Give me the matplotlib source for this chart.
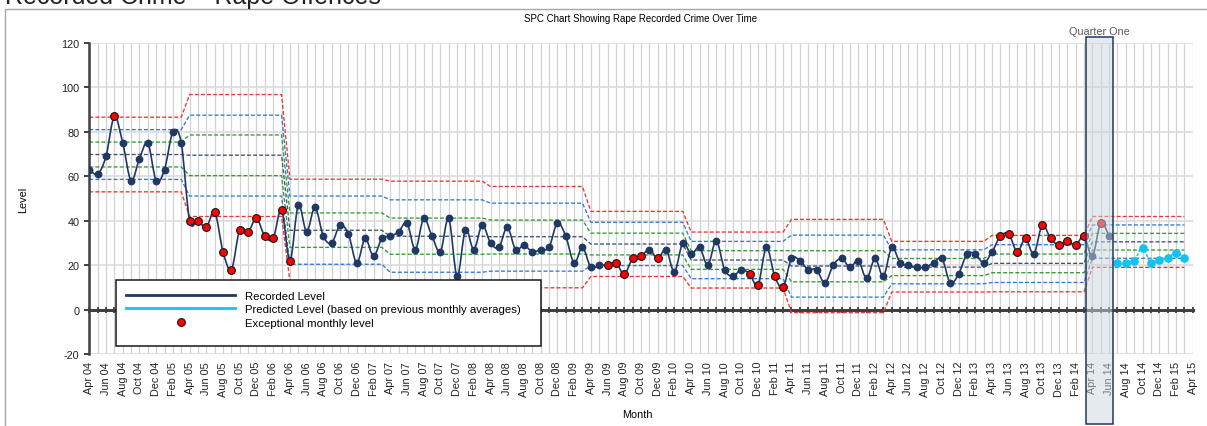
"""SPC chart: rape recorded crime over time, with yearly control limits."""

import numpy as np
import matplotlib
matplotlib.use('Agg')
import matplotlib.pyplot as plt
from matplotlib.path import Path
from matplotlib.patches import PathPatch, Rectangle
from matplotlib.lines import Line2D

plt.rcParams['font.family'] = ['Liberation Sans', 'DejaVu Sans']
plt.rcParams['axes.unicode_minus'] = False

# months Apr 04 .. Apr 15 (axis runs to Apr 15)
month_names = ['Jan', 'Feb', 'Mar', 'Apr', 'May', 'Jun',
               'Jul', 'Aug', 'Sep', 'Oct', 'Nov', 'Dec']
months = [f"{month_names[(3 + i) % 12]} {(4 + (3 + i) // 12):02d}" for i in range(133)]

# recorded monthly level, Apr 04 .. Jun 14
recorded = [63, 61, 69, 87, 75, 58, 68, 75, 58, 63, 80, 75,
            40, 40, 37, 44, 26, 18, 36, 35, 41, 33, 32, 45,
            22, 47, 35, 46, 33, 30, 38, 34, 21, 32, 24, 32,
            33, 35, 39, 27, 41, 33, 26, 41, 15, 36, 27, 38,
            30, 28, 37, 27, 29, 26, 27, 28, 39, 33, 21, 28,
            19, 20, 20, 21, 16, 23, 24, 27, 23, 27, 17, 30,
            25, 28, 20, 31, 18, 15, 18, 16, 11, 28, 15, 10,
            23, 22, 18, 18, 12, 20, 23, 19, 22, 14, 23, 15,
            28, 21, 20, 19, 19, 21, 23, 12, 16, 25, 25, 21,
            26, 33, 34, 26, 32, 25, 38, 32, 29, 31, 29, 33,
            24, 39, 33]

# predicted level, Jul 14 .. Mar 15
predicted = [20.8, 20.8, 21.9, 27.9, 20.8, 22.3, 23.4, 25.6, 23.4]

# months flagged as exceptional (index into months)
exceptional = [3, 12, 13, 14, 15, 16, 17, 18, 19, 20, 21, 22, 23, 24,
               62, 63, 64, 65, 66, 68, 79, 80, 82, 83,
               109, 110, 111, 112, 114, 115, 116, 117, 118, 119, 121]

# control lines, one value per financial year (Apr-Mar), 04/05 .. 14/15
ucl = [86.6, 96.8, 58.7, 57.8, 55.4, 44.2, 34.9, 40.6, 30.7, 33.4, 41.9]
upper2 = [81.0, 87.5, 51.1, 49.4, 47.9, 39.3, 30.7, 33.5, 26.9, 29.2, 38.1]
upper1 = [75.4, 78.6, 43.5, 41.2, 40.3, 34.4, 26.5, 26.5, 23.0, 25.0, 34.3]
mean = [69.8, 69.5, 35.7, 33.0, 32.8, 29.5, 22.3, 19.6, 19.1, 20.8, 30.5]
lower1 = [64.2, 60.3, 28.0, 24.9, 25.0, 24.6, 18.1, 12.5, 15.3, 16.6, 26.8]
lower2 = [58.6, 51.1, 20.4, 16.8, 17.3, 19.8, 13.9, 5.6, 11.6, 12.2, 23.1]
lcl = [53.0, 41.9, 12.8, 8.6, 9.8, 14.9, 9.7, -1.4, 7.9, 8.0, 19.0]

NAVY = '#1F3864'
CYAN = '#12C3F2'
RED = '#F03232'
BLUE = '#2E7BD0'
GREEN = '#2E9E2E'
MEAN_C = '#3A5275'


def smooth_path(x, y):
    """Excel-like smoothed line (Catmull-Rom as cubic Bezier)."""
    pts = np.column_stack([x, y]).astype(float)
    n = len(pts)
    verts = [pts[0]]
    codes = [Path.MOVETO]
    for i in range(n - 1):
        p0 = pts[i - 1] if i > 0 else pts[i]
        p1 = pts[i]
        p2 = pts[i + 1]
        p3 = pts[i + 2] if i + 2 < n else p2
        verts += [p1 + (p2 - p0) / 6.0, p2 - (p3 - p1) / 6.0, p2]
        codes += [Path.CURVE4] * 3
    return Path(verts, codes)


W, H = 1207, 427
fig = plt.figure(figsize=(W / 100, H / 100), dpi=100)
ax = fig.add_axes([89.3 / W, 1 - 355 / H, (1192.7 - 89.3) / W, (355 - 44) / H])

n_months = len(months)
idx = np.arange(n_months)

# grid
for i in idx:
    ax.axvline(i, color='#D2D2D2', lw=0.9, zorder=0)
for yv in [-20, 20, 40, 60, 80, 100, 120]:
    ax.axhline(yv, color='#DCDCDC', lw=1.2, zorder=0.5)

# control lines
ctrl_idx = idx[:132]
year_of = ctrl_idx // 12
for vals, col in [(ucl, RED), (upper2, BLUE), (upper1, GREEN), (mean, MEAN_C),
                  (lower1, GREEN), (lower2, BLUE), (lcl, RED)]:
    line = np.array(vals)[year_of]
    ax.plot(ctrl_idx, line, color=col, lw=0.95, ls=(0, (3, 1.6)), zorder=2)

# recorded level
rec_x = idx[:len(recorded)]
ax.add_patch(PathPatch(smooth_path(rec_x, recorded), facecolor='none',
                       edgecolor=NAVY, lw=1.2, zorder=3))
ax.plot(rec_x, recorded, ls='none', marker='o', ms=4.6, color=NAVY, zorder=4)
exc_y = [recorded[i] for i in exceptional]
ax.plot(exceptional, exc_y, ls='none', marker='o', ms=5.6, mfc='#FF0000',
        mec='#1A1A1A', mew=0.8, zorder=4.5)

# predicted level
pred_x = idx[len(recorded):len(recorded) + len(predicted)]
ax.add_patch(PathPatch(smooth_path(pred_x, predicted), facecolor='none',
                       edgecolor=CYAN, lw=1.1, ls=(0, (2, 1)), zorder=3))
ax.plot(pred_x, predicted, ls='none', marker='o', ms=5.2, color=CYAN, zorder=4)

# axes
ax.set_xlim(0, 132)
ax.set_ylim(-20, 120)
ax.set_yticks([-20, 0, 20, 40, 60, 80, 100, 120])
ax.set_xticks(idx[::2])
ax.set_xticklabels(months[::2], rotation=90, fontsize=7.8, color='#222222')
ax.tick_params(axis='x', length=0, pad=5)
ax.tick_params(axis='y', direction='out', length=3.5, width=1.4, color='#404040',
               labelsize=7.8, labelcolor='#222222', pad=3.5)
for s in ['top', 'right', 'bottom']:
    ax.spines[s].set_visible(False)
ax.spines['left'].set_color('#404040')
ax.spines['left'].set_linewidth(1.8)

# zero axis line with monthly tick marks
zero_ax = ax.secondary_xaxis(20 / 140)
zero_ax.set_xticks(idx)
zero_ax.tick_params(axis='x', direction='inout', length=4, width=1.3,
                    color='#404040', labelbottom=False, labeltop=False)
for s in zero_ax.spines.values():
    s.set_color('#404040')
    s.set_linewidth(2.2)

ax.set_ylabel('Level', fontsize=7.8)
ax.yaxis.set_label_coords((28 - 89.3) / (1192.7 - 89.3), 0.5)
fig.text(637 / W, 1 - 415 / H, 'Month', ha='center', va='center', fontsize=7.8)

# quarter one highlight
ax.add_patch(Rectangle((119.2, -51.7), 3.3, 174.4, facecolor=(0.80, 0.84, 0.87, 0.5),
                       edgecolor=NAVY, lw=1.1, zorder=6, clip_on=False))
ax.text(120.85, 125.4, 'Quarter One', ha='center', va='center', fontsize=7.8,
        color='#595959', clip_on=False)

# titles
ax.set_title('SPC Chart Showing Rape Recorded Crime Over Time', fontsize=7, pad=16)
fig.text(5 / W, 1 - 4 / H, 'Recorded Crime \u2013 Rape Offences', ha='left',
         va='baseline', fontsize=18, color='#222222')
fig.patches.append(Rectangle((5 / W, -0.05), 1.1, 1 - 10 / H + 0.05,
                             transform=fig.transFigure, facecolor='none',
                             edgecolor='#A6A6A6', lw=1.0, zorder=0.1))

# legend
fig.patches.append(Rectangle((116 / W, 1 - 347 / H), (541 - 116) / W, 66 / H,
                             transform=fig.transFigure, facecolor='white',
                             edgecolor='#1A1A1A', lw=1.1, zorder=1))
handles = [Line2D([], [], color=NAVY, lw=2.0),
           Line2D([], [], color=CYAN, lw=2.0),
           Line2D([], [], ls='none', marker='o', ms=5.6, mfc='#FF0000',
                  mec='#1A1A1A', mew=0.8)]
labels = ['Recorded Level',
          'Predicted Level (based on previous monthly averages)',
          'Exceptional monthly level']
leg = fig.legend(handles, labels, loc='upper left', bbox_to_anchor=(126 / W, 1 - 292 / H),
                 frameon=False, fontsize=8.2, handlelength=9.6, handletextpad=0.85,
                 labelspacing=0.3, borderpad=0, borderaxespad=0, numpoints=1)
leg.set_zorder(2)

fig.savefig('out.png', dpi=100, facecolor='white')
